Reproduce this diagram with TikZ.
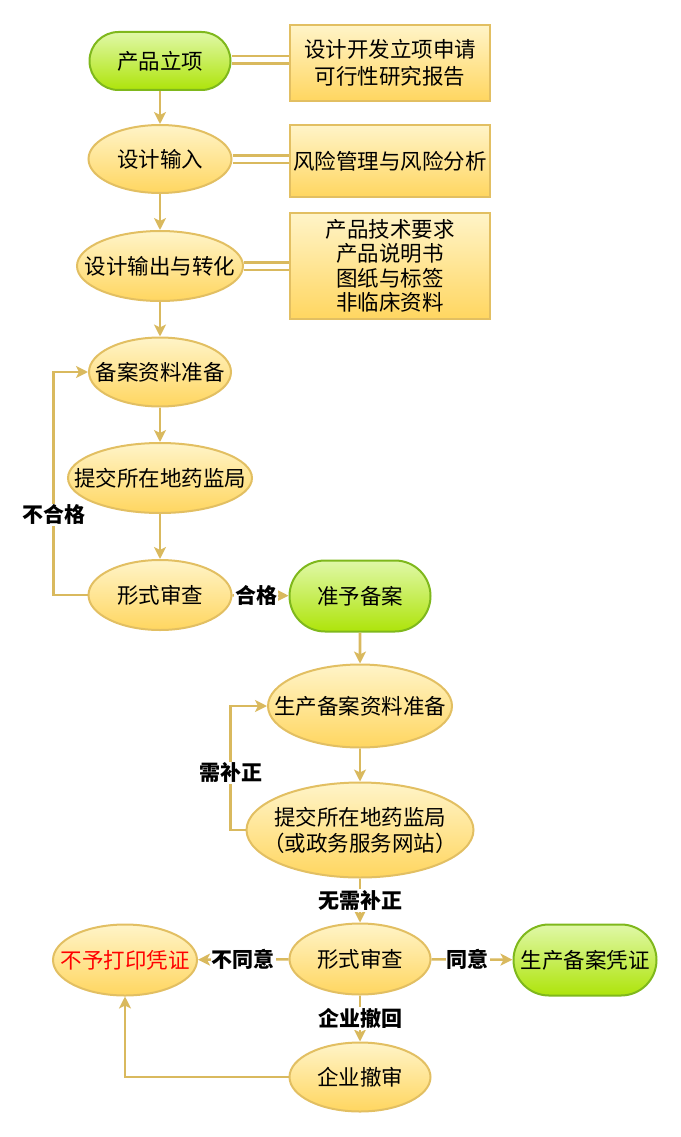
\documentclass[tikz,border=0pt]{standalone}
\usepackage{fontspec}
\setmainfont{Noto Sans CJK SC}
\usetikzlibrary{shapes.geometric,shapes.misc,arrows.meta}
\definecolor{edgec}{HTML}{D9B95E}
\definecolor{ellb}{HTML}{E2BF62}
\definecolor{ellt}{HTML}{FFF4C8}
\definecolor{ellbot}{HTML}{FFD660}
\definecolor{grb}{HTML}{7FB81C}
\definecolor{grt}{HTML}{E0F8A8}
\definecolor{grbot}{HTML}{AEE40A}
\tikzset{
  ell/.style={ellipse, draw=ellb, line width=2pt, top color=ellt, bottom color=ellbot, inner sep=0pt},
  etext/.style={inner sep=0pt, align=center, font=\fontsize{21.5}{26}\selectfont},
  pill/.style={rounded rectangle, draw=grb, line width=2pt, top color=grt, bottom color=grbot, inner sep=0pt, font=\fontsize{21.5}{26}\selectfont},
  docbox/.style={rectangle, draw=ellb, line width=2pt, top color=ellt, bottom color=ellbot, inner sep=0pt, minimum width=200pt, align=center},
  arr/.style={draw=edgec, line width=2.6pt, -{Stealth[length=12pt,width=12pt,inset=3pt]}},
  dbl/.style={draw=edgec, line width=2.4pt, double=white, double distance=5pt},
  lbl/.style={fill=white, inner sep=1pt, font=\bfseries\fontsize{21}{25}\selectfont},
}
\begin{document}
\begin{tikzpicture}[x=1pt,y=-1pt]
\useasboundingbox (0,0) rectangle (680,1137);
% main column
\node[pill, minimum width=141pt, minimum height=58pt] (cp) at (160,61) {产品立项};
\node[ell, minimum width=143pt, minimum height=68pt, label={[etext]center:设计输入}] (sr) at (160,159) {};
\node[ell, minimum width=166pt, minimum height=70pt, label={[etext]center:设计输出与转化}] (sc) at (160,266) {};
\node[ell, minimum width=142pt, minimum height=69pt, label={[etext]center:备案资料准备}] (ba) at (160,372) {};
\node[ell, minimum width=184pt, minimum height=70pt, label={[etext]center:提交所在地药监局}] (tj) at (160,478) {};
\node[ell, minimum width=143pt, minimum height=70pt, label={[etext]center:形式审查}] (xs1) at (160,595) {};
\node[pill, minimum width=141pt, minimum height=71pt] (zy) at (360,596) {准予备案};
% boxes
\node[docbox, minimum height=76pt, font=\fontsize{21.5}{27}\selectfont] (b1) at (390,63) {设计开发立项申请\\可行性研究报告};
\node[docbox, minimum height=72pt, font=\fontsize{21.5}{26}\selectfont] (b2) at (390,161) {风险管理与风险分析};
\node[docbox, minimum height=106pt, font=\fontsize{21.5}{24.5}\selectfont] (b3) at (390,266) {产品技术要求\\产品说明书\\图纸与标签\\非临床资料};
% production part
\node[ell, minimum width=184pt, minimum height=83pt, label={[etext]center:生产备案资料准备}] (sp) at (360,706) {};
\node[ell, minimum width=227pt, minimum height=95pt, label={[etext,font=\fontsize{21.5}{26}\selectfont]center:{提交所在地药监局\\（或政务服务网站）}}] (tj2) at (360,830) {};
\node[ell, minimum width=141pt, minimum height=71pt, label={[etext]center:形式审查}] (xs2) at (360,959) {};
\node[pill, minimum width=143pt, minimum height=71pt] (pz) at (585,960) {生产备案凭证};
\node[ell, minimum width=144pt, minimum height=71pt, label={[etext,text=red]center:不予打印凭证}] (by) at (125,960) {};
\node[ell, minimum width=141pt, minimum height=69pt, label={[etext]center:企业撤审}] (qy) at (360,1077) {};
% double connectors
\draw[dbl] (cp.east |- 0,60) -- (b1.west |- 0,60);
\draw[dbl] (sr.east |- 0,159) -- (b2.west |- 0,159);
\draw[dbl] (sc.east |- 0,266) -- (b3.west |- 0,266);
% arrows
\draw[arr] (cp) -- (sr);
\draw[arr] (sr) -- (sc);
\draw[arr] (sc) -- (ba);
\draw[arr] (ba) -- (tj);
\draw[arr] (tj) -- (xs1);
\draw[arr] (xs1.west) -- ++(-34,0) |- node[lbl,pos=0.18] (l1) {不合格} (ba.west);
\draw[arr] (xs1) -- node[lbl,pos=0.42] (l2) {合格} (zy);
\draw[arr] (zy) -- (sp);
\draw[arr] (sp) -- (tj2);
\draw[arr] (tj2.west) -- ++(-15,0) |- node[lbl,pos=0.23] (l3) {需补正} (sp.west);
\draw[arr] (tj2) -- node[lbl] (l4) {无需补正} (xs2);
\draw[arr] (xs2) -- node[lbl,pos=0.45] (l5) {同意} (pz);
\draw[arr] (xs2) -- node[lbl] (l6) {不同意} (by);
\draw[arr] (xs2) -- node[lbl] (l7) {企业撤回} (qy);
\draw[arr] (qy.west) -| (by.south);
\end{tikzpicture}
\end{document}
